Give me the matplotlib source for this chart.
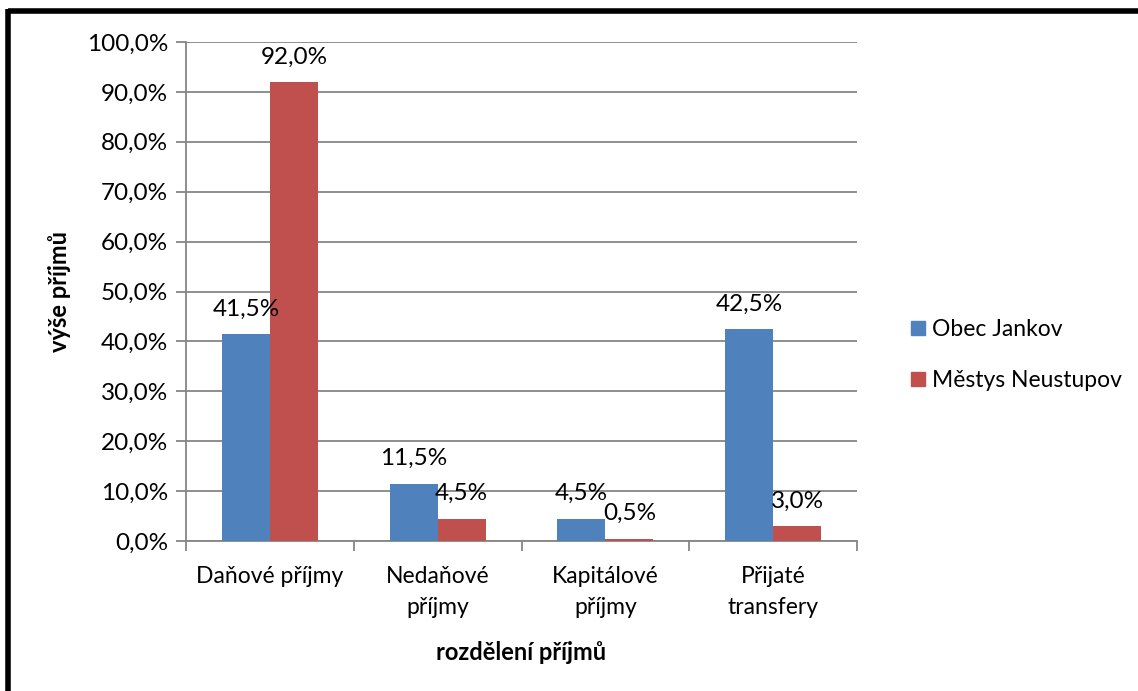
import matplotlib
matplotlib.use("Agg")
import matplotlib.pyplot as plt
from matplotlib.lines import Line2D
import numpy as np

categories = ["Daňové příjmy", "Nedaňové\npříjmy", "Kapitálové\npříjmy", "Přijaté\ntransfery"]
series_names = ["Obec Jankov", "Městys Neustupov"]
jankov = [41.5, 11.5, 4.5, 42.5]
neustupov = [92.0, 4.5, 0.5, 3.0]
colors = ["#4F81BD", "#C0504D"]
yticks = [0, 10, 20, 30, 40, 50, 60, 70, 80, 90, 100]

plt.rcParams['font.family'] = ['Lato', 'DejaVu Sans']

NUM_FS = 17.5
TXT_FS = 16.5
W, H = 1138, 691
X0, X1, Y0, Y1 = 186, 857, 541, 42
fig = plt.figure(figsize=(W / 100, H / 100), dpi=100)
ax = fig.add_axes([X0 / W, 1 - Y0 / H, (X1 - X0) / W, (Y0 - Y1) / H])

x = np.arange(len(categories))
bw = 0.286
for i, (vals, name, c) in enumerate(zip([jankov, neustupov], series_names, colors)):
    pos = x + (i - 0.5) * bw
    ax.bar(pos, vals, width=bw, color=c, label=name, zorder=3)
    for px, v in zip(pos, vals):
        ax.annotate(f"{v:.1f}%".replace(".", ","), (px, v), xytext=(0, 18),
                    textcoords="offset points", ha="center", va="center",
                    fontsize=NUM_FS, color="black", zorder=4)

ax.set_xlim(-0.5, len(categories) - 0.5)
ax.set_ylim(0, 100)
ax.set_yticks(yticks)
ax.set_yticklabels([f"{t:.1f}%".replace(".", ",") for t in yticks], fontsize=NUM_FS)
ax.yaxis.grid(True, color="#868686", lw=1.3, zorder=0)
ax.set_xticks(x)
ax.set_xticklabels(categories, fontsize=TXT_FS, linespacing=1.6)
ax.tick_params(axis="x", length=0, pad=18)
ax.set_xticks(np.arange(-0.5, len(categories)), minor=True)
ax.tick_params(axis="x", which="minor", length=7, color="#868686", width=1.3)
ax.tick_params(axis="y", length=7, color="#868686", width=1.3, pad=6)

for s in ["top", "right"]:
    ax.spines[s].set_visible(False)
for s in ["left", "bottom"]:
    ax.spines[s].set_color("#868686")
    ax.spines[s].set_linewidth(1.3)

ax.set_ylabel("výše příjmů", fontsize=17, fontweight="bold", va="center")
ax.yaxis.set_label_coords((60 - X0) / (X1 - X0), 0.5)
ax.set_xlabel("rozdělení příjmů", fontsize=17, fontweight="bold", va="center")
ax.xaxis.set_label_coords(0.5, (Y0 - 652) / (Y0 - Y1))

handles = [Line2D([], [], marker="s", ls="", color=c, markersize=10.5) for c in colors]
fig.legend(handles, series_names, loc="center left", bbox_to_anchor=(895 / W, 1 - 355 / H),
           frameon=False, fontsize=TXT_FS, handletextpad=0.1, labelspacing=1.35,
           handlelength=1.0, borderpad=0)

# outer frame (top and left black border)
fig.add_artist(Line2D([8 / W, 1], [1 - 10.5 / H, 1 - 10.5 / H], color="black", lw=4,
                      transform=fig.transFigure, solid_capstyle="butt"))
fig.add_artist(Line2D([8 / W, 8 / W], [0, 1 - 8.5 / H], color="black", lw=4,
                      transform=fig.transFigure, solid_capstyle="butt"))

fig.savefig("out.png", dpi=100)
